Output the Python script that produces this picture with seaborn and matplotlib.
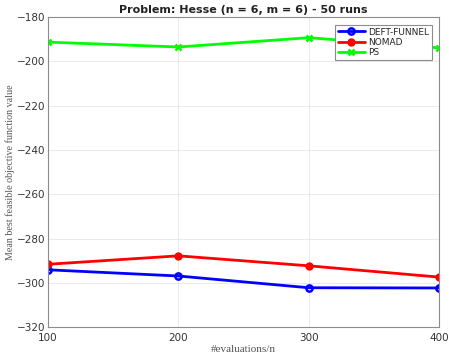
import matplotlib
matplotlib.use("Agg")
import matplotlib.pyplot as plt
import seaborn as sns
import pandas as pd

evaluations = [100, 200, 300, 400]
deft_funnel = [-294.1, -296.9, -302.2, -302.3]
nomad = [-291.6, -287.8, -292.3, -297.4]
ps = [-191.3, -193.5, -189.3, -193.9]

solvers = ["DEFT-FUNNEL", "NOMAD", "PS"]
colors = {"DEFT-FUNNEL": "#0000ff", "NOMAD": "#ff0000", "PS": "#00ff00"}

frames = []
for name, vals in zip(solvers, [deft_funnel, nomad, ps]):
    frames.append(pd.DataFrame({"evals": evaluations, "value": vals, "solver": name}))
df = pd.concat(frames, ignore_index=True)

sns.set_style("white")
plt.rcParams["font.family"] = ["DejaVu Sans"]

fig = plt.figure(figsize=(4.49, 3.56), dpi=100)
ax = fig.add_axes([0.107, 0.081, 0.871, 0.871])

sns.lineplot(data=df, x="evals", y="value", hue="solver", palette=colors,
             linewidth=2, ax=ax, legend=False, sort=False)

# markers drawn per solver (hollow circles, filled circles, crosses)
marker_style = {
    "DEFT-FUNNEL": dict(marker="o", mfc="none", ms=4.5, mew=1.8),
    "NOMAD": dict(marker="o", mfc="#ff0000", ms=4.5, mew=1.5),
    "PS": dict(marker="x", ms=5, mew=1.8),
}
handles = []
for name in solvers:
    sub = df[df.solver == name]
    ax.plot(sub["evals"], sub["value"], linestyle="none", color=colors[name],
            **marker_style[name])
    h, = ax.plot([], [], color=colors[name], linewidth=2, **marker_style[name])
    handles.append(h)

ax.set_xlim(100, 400)
ax.set_ylim(-320, -180)
ax.set_xticks(evaluations)
ax.set_yticks(range(-320, -179, 20))
ax.grid(True, color="#e6e6e6", linewidth=0.6)
ax.set_axisbelow(True)

for s in ax.spines.values():
    s.set_color("#8c8c8c")
    s.set_linewidth(0.8)
ax.tick_params(axis="both", direction="in", length=3, colors="#8c8c8c",
               labelcolor="#333333", labelsize=7.5)
ax.tick_params(axis="x", pad=4)
ax.tick_params(axis="y", pad=2)

ax.set_xlabel("#evaluations/n", family="Liberation Serif", fontsize=8,
              color="#555555", labelpad=2)
ax.set_ylabel("Mean best feasible objective function value", family="Liberation Serif",
              fontsize=7.2, color="#555555")
ax.yaxis.set_label_coords(-0.085, 0.5)
ax.set_title("Problem: Hesse (n = 6, m = 6) - 50 runs", fontsize=8,
             fontweight="bold", color="#222222", pad=3)

leg = ax.legend(handles, solvers, loc="upper right", fontsize=6.5,
                frameon=True, fancybox=False, framealpha=1, handlelength=3.0,
                borderpad=0.3, labelspacing=0.15, handletextpad=0.4,
                borderaxespad=0, bbox_to_anchor=(0.982, 0.975))
leg.get_frame().set_edgecolor("#8c8c8c")
leg.get_frame().set_linewidth(0.8)

fig.savefig("out.png", dpi=100)
